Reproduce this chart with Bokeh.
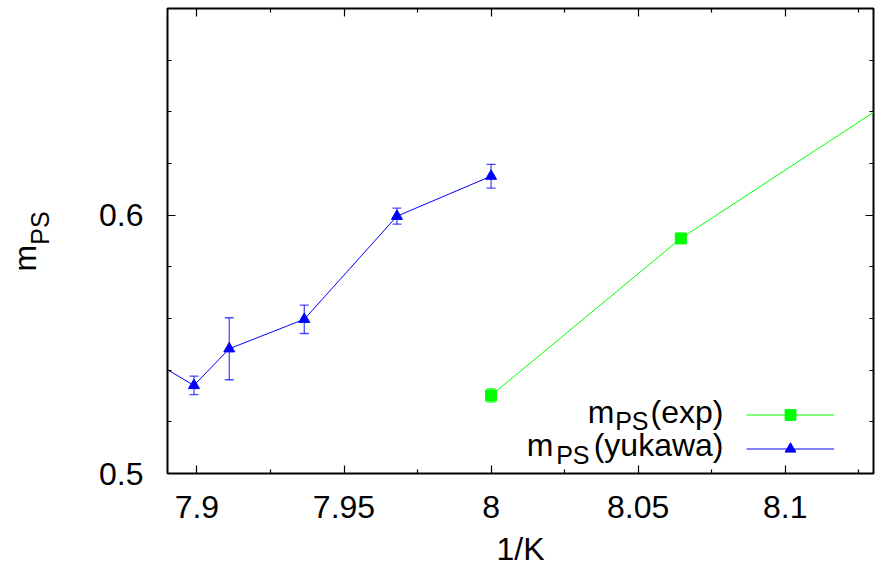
from bokeh.plotting import figure
from bokeh.models import (Range1d, FixedTicker, LinearAxis, CustomJSTickFormatter,
                          ColumnDataSource, Label, Legend, LegendItem)
from bokeh.embed import file_html
from bokeh.resources import INLINE

# ---------------- data ----------------
exp_x = [8.0, 8.0645, 8.1967]
exp_y = [0.5302, 0.5910, 0.6895]
exp_err = [0.0026, 0.0015, 0.0020]

yuk_x = [7.874, 7.899, 7.911, 7.9365, 7.968, 8.0]
yuk_y = [0.5510, 0.5341, 0.5483, 0.5597, 0.5996, 0.6151]
yuk_err = [0.0040, 0.0036, 0.0120, 0.0055, 0.0031, 0.0046]

x_ticks = [7.9, 7.95, 8.0, 8.05, 8.1]
x_minor = [7.875, 7.925, 7.975, 8.025, 8.075, 8.125]
y_ticks = [0.5, 0.6]
y_minor = [0.52, 0.54, 0.56, 0.58, 0.62, 0.64, 0.66, 0.68]

X0, X1 = 7.89, 8.13
Y0, Y1 = 0.5, 0.68

FONT = "Liberation Sans"
FS_PX = 32
SUB_PX = 25
FS = "%dpx" % FS_PX
SUB = "%dpx" % SUB_PX
GREEN = "#00ff00"
BLUE = "#0000ff"

# frame geometry on the page (px)
FL, FR, FT, FB = 167.0, 873.0, 8.0, 473.0


def dx(px):
    return X0 + (px - FL) / (FR - FL) * (X1 - X0)


def dy(py):
    return Y0 + (FB - py) / (FB - FT) * (Y1 - Y0)


p = figure(width=881, height=571, x_range=Range1d(X0, X1), y_range=Range1d(Y0, Y1),
           output_backend="svg", toolbar_location=None,
           min_border_left=167, min_border_right=8, min_border_top=8, min_border_bottom=98)
p.xgrid.visible = False
p.ygrid.visible = False
p.outline_line_color = "black"
p.outline_line_width = 2
p.background_fill_color = "white"
p.border_fill_color = "white"

fmt = CustomJSTickFormatter(code="return String(Math.round(tick*1000)/1000);")
blank = CustomJSTickFormatter(code="return '';")


def style(ax, labels=True):
    ax.axis_line_color = None
    ax.major_tick_in = 8
    ax.major_tick_out = 0
    ax.minor_tick_in = 4
    ax.minor_tick_out = 0
    ax.major_tick_line_color = "black"
    ax.minor_tick_line_color = "black"
    ax.major_tick_line_width = 1.2
    ax.minor_tick_line_width = 1.2
    if labels:
        ax.formatter = fmt
        ax.major_label_text_font = FONT
        ax.major_label_text_font_size = FS
        ax.major_label_text_color = "black"
    else:
        ax.formatter = blank
        ax.major_label_text_font_size = "0px"
        ax.major_label_standoff = 0


xt = FixedTicker(ticks=x_ticks, minor_ticks=x_minor)
yt = FixedTicker(ticks=y_ticks, minor_ticks=y_minor)

for ax in p.xaxis:
    ax.ticker = xt
    style(ax)
    ax.major_label_standoff = 22
    ax.axis_label = "1/K"
    ax.axis_label_text_font = FONT
    ax.axis_label_text_font_size = FS
    ax.axis_label_text_font_style = "normal"
    ax.axis_label_text_color = "black"
    ax.axis_label_text_baseline = "middle"
    ax.axis_label_standoff = 10
for ax in p.yaxis:
    ax.ticker = yt
    style(ax)
    ax.major_label_standoff = 24

top = LinearAxis(ticker=xt)
style(top, labels=False)
p.add_layout(top, "above")
right = LinearAxis(ticker=yt)
style(right, labels=False)
p.add_layout(right, "right")


# y title "m_PS" drawn as rotated labels of two extra left axes
def title_axis(text, center_py, size, standoff):
    ax = LinearAxis(ticker=FixedTicker(ticks=[dy(center_py)], minor_ticks=[]),
                    formatter=CustomJSTickFormatter(code="return %r;" % text),
                    major_label_orientation="vertical", major_label_standoff=standoff,
                    major_label_text_font=FONT, major_label_text_font_size=size,
                    major_label_text_color="black", axis_line_color=None,
                    major_tick_line_color=None, minor_tick_line_color=None,
                    major_tick_in=0, major_tick_out=0, minor_tick_in=0, minor_tick_out=0)
    p.add_layout(ax, "left")


title_axis("PS", 227.5, SUB, 43)
title_axis("m", 257.6, FS, -21)

# ---------------- yukawa ----------------
ysrc = ColumnDataSource(dict(x=yuk_x, y=yuk_y,
                             lo=[v - e for v, e in zip(yuk_y, yuk_err)],
                             hi=[v + e for v, e in zip(yuk_y, yuk_err)]))
p.segment(x0="x", y0="lo", x1="x", y1="hi", source=ysrc, line_color=BLUE, line_alpha=0.7, line_width=1.3)
p.scatter(x="x", y="lo", source=ysrc, marker="dash", size=9, line_color=BLUE, line_alpha=0.7, line_width=1.3)
p.scatter(x="x", y="hi", source=ysrc, marker="dash", size=9, line_color=BLUE, line_alpha=0.7, line_width=1.3)
yl = p.line(x="x", y="y", source=ysrc, line_color=BLUE, line_width=1)
ym = p.scatter(x="x", y="y", source=ysrc, marker="triangle", size=11, fill_color=BLUE, line_color=BLUE)

# ---------------- exp ----------------
esrc = ColumnDataSource(dict(x=exp_x, y=exp_y,
                             lo=[v - e for v, e in zip(exp_y, exp_err)],
                             hi=[v + e for v, e in zip(exp_y, exp_err)]))
p.segment(x0="x", y0="lo", x1="x", y1="hi", source=esrc, line_color=GREEN, line_alpha=0.7, line_width=1.3)
p.scatter(x="x", y="lo", source=esrc, marker="dash", size=9, line_color=GREEN, line_alpha=0.7, line_width=1.3)
p.scatter(x="x", y="hi", source=esrc, marker="dash", size=9, line_color=GREEN, line_alpha=0.7, line_width=1.3)
el = p.line(x="x", y="y", source=esrc, line_color=GREEN, line_width=1)
em = p.scatter(x="x", y="y", source=esrc, marker="square", size=11, fill_color=GREEN, line_color=GREEN)

# ---------------- legend (samples) ----------------
leg = Legend(items=[LegendItem(label=" ", renderers=[el, em]),
                    LegendItem(label=" ", renderers=[yl, ym])],
             location=(579, 11), glyph_width=88, glyph_height=27, spacing=7,
             padding=0, margin=0, label_standoff=0, label_width=1,
             label_text_font_size="1px", border_line_alpha=0, background_fill_alpha=0)
p.add_layout(leg, "center")


def lab(px, base_py, text, size_px=FS_PX, align="right"):
    # text is placed by its middle; shift so that the glyph baseline lands on base_py
    mid_py = base_py - 0.3465 * size_px
    p.add_layout(Label(x=dx(px), y=dy(mid_py), text=text, text_align=align, text_baseline="middle",
                       text_font=FONT, text_font_size="%dpx" % size_px, text_color="black"))


# legend texts
lab(614, 422.3, "m")
lab(648, 429.3, "PS", SUB_PX)
lab(723, 422.3, "(exp)")
lab(553, 455.7, "m")
lab(589, 462.7, "PS", SUB_PX)
lab(723, 455.7, "(yukawa)")

open("out.html", "w").write(file_html(p, INLINE))
